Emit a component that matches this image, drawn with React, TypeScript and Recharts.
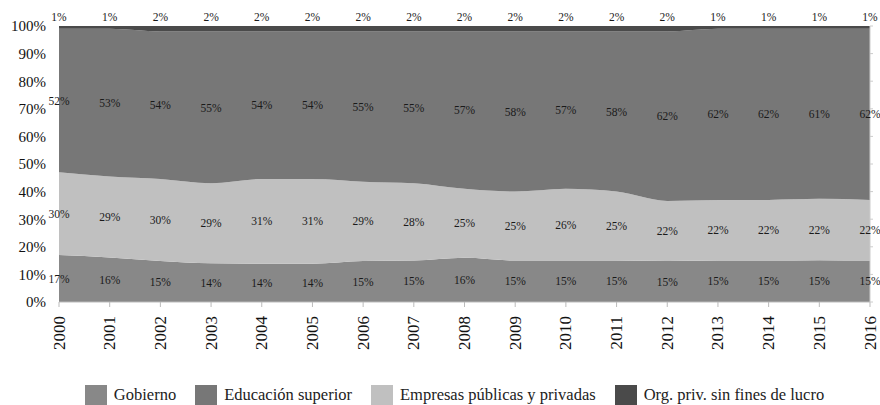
import {
  Area,
  ComposedChart,
  LabelList,
  Legend,
  Line,
  XAxis,
  YAxis
} from 'recharts'

const years = ['2000', '2001', '2002', '2003', '2004', '2005', '2006', '2007', '2008', '2009', '2010', '2011', '2012', '2013', '2014', '2015', '2016']
const gobierno = [17, 16, 15, 14, 14, 14, 15, 15, 16, 15, 15, 15, 15, 15, 15, 15, 15]
const empresas = [30, 29, 30, 29, 31, 31, 29, 28, 25, 25, 26, 25, 22, 22, 22, 22, 22]
const educacion = [52, 53, 54, 55, 54, 54, 55, 55, 57, 58, 57, 58, 62, 62, 62, 61, 62]
const orgPriv = [1, 1, 2, 2, 2, 2, 2, 2, 2, 2, 2, 2, 2, 1, 1, 1, 1]
const yTicks = [0, 0.1, 0.2, 0.3, 0.4, 0.5, 0.6, 0.7, 0.8, 0.9, 1]

const colors = {
  gobierno: '#888888',
  educacion: '#777777',
  empresas: '#c0c0c0',
  orgPriv: '#4a4a4a'
}

// legend order differs from stacking order
const legendItems = [
  { name: 'Gobierno', color: colors.gobierno },
  { name: 'Educación superior', color: colors.educacion },
  { name: 'Empresas públicas y privadas', color: colors.empresas },
  { name: 'Org. priv. sin fines de lucro', color: colors.orgPriv }
]

const data = years.map((year, i) => {
  const total = gobierno[i] + empresas[i] + educacion[i] + orgPriv[i]
  return {
    year,
    gobierno: gobierno[i],
    empresas: empresas[i],
    educacion: educacion[i],
    orgPriv: orgPriv[i],
    // centres of each band, used only to place the value labels
    gobMid: gobierno[i] / 2 / total,
    empMid: (gobierno[i] + empresas[i] / 2) / total,
    eduMid: (gobierno[i] + empresas[i] + educacion[i] / 2) / total,
    orgTop: 1
  }
})

const serif = '"Liberation Serif", "DejaVu Serif", serif'
const pct = (v: any) => `${v}%`

const YearTick = ({ x, y, payload }: any) => (
  <text
    transform={`translate(${x},${y + 1}) rotate(-90)`}
    textAnchor="end"
    dominantBaseline="central"
    fontFamily={serif}
    fontSize={17}
    fill="#111"
  >
    {payload.value}
  </text>
)

const LegendContent = () => (
  <div
    style={{
      display: 'flex',
      justifyContent: 'center',
      alignItems: 'flex-start',
      gap: 19,
      paddingLeft: 29,
      paddingTop: 2,
      fontFamily: serif,
      fontSize: 16.5,
      lineHeight: '20px',
      color: '#222'
    }}
  >
    {legendItems.map(item => (
      <div key={item.name} style={{ display: 'flex', alignItems: 'flex-start', gap: 7 }}>
        <span style={{ width: 22, height: 20, background: item.color, display: 'inline-block' }} />
        <span>{item.name}</span>
      </div>
    ))}
  </div>
)

const labelStyle = { fontFamily: serif, fontSize: 11.5, fill: '#1a1a1a' }

export default function App() {
  return (
    <>
      <style>{'body { margin: 0; overflow: hidden; }'}</style>
      <ComposedChart
        width={880}
        height={405}
        data={data}
        stackOffset="expand"
        margin={{ top: 26, right: 0, bottom: 0, left: 8 }}
      >
        <XAxis
          dataKey="year"
          height={81}
          tick={<YearTick />}
          tickSize={5}
          tickMargin={8}
          interval={0}
          stroke="#bbbbbb"
        />
        <YAxis
          domain={[0, 1]}
          ticks={yTicks}
          width={51}
          axisLine={false}
          tickLine={false}
          tickSize={0}
          tickMargin={13}
          tickFormatter={(v: number) => `${Math.round(v * 100)}%`}
          tick={{ fontFamily: serif, fontSize: 15, fill: '#111' }}
        />
        <YAxis
          yAxisId="right"
          orientation="right"
          domain={[0, 1]}
          ticks={yTicks}
          width={10}
          stroke="#cccccc"
          tickSize={3}
          tickFormatter={() => ''}
        />
        <Area type="monotone" dataKey="gobierno" stackId="1" stroke="none" fill={colors.gobierno} fillOpacity={1} isAnimationActive={false} />
        <Area type="monotone" dataKey="empresas" stackId="1" stroke="none" fill={colors.empresas} fillOpacity={1} isAnimationActive={false} />
        <Area type="monotone" dataKey="educacion" stackId="1" stroke="none" fill={colors.educacion} fillOpacity={1} isAnimationActive={false} />
        <Area type="monotone" dataKey="orgPriv" stackId="1" stroke="none" fill={colors.orgPriv} fillOpacity={1} isAnimationActive={false} />
        <Line dataKey="gobMid" stroke="none" dot={false} activeDot={false} isAnimationActive={false}>
          <LabelList dataKey="gobierno" position="center" formatter={pct} style={labelStyle} />
        </Line>
        <Line dataKey="empMid" stroke="none" dot={false} activeDot={false} isAnimationActive={false}>
          <LabelList dataKey="empresas" position="center" formatter={pct} style={labelStyle} />
        </Line>
        <Line dataKey="eduMid" stroke="none" dot={false} activeDot={false} isAnimationActive={false}>
          <LabelList dataKey="educacion" position="center" formatter={pct} style={labelStyle} />
        </Line>
        <Line dataKey="orgTop" stroke="none" dot={false} activeDot={false} isAnimationActive={false}>
          <LabelList dataKey="orgPriv" position="top" offset={5} formatter={pct} style={labelStyle} />
        </Line>
        <Legend
          verticalAlign="bottom"
          height={22}
          content={<LegendContent />}
          wrapperStyle={{ left: 0, width: 880 }}
        />
      </ComposedChart>
    </>
  )
}
